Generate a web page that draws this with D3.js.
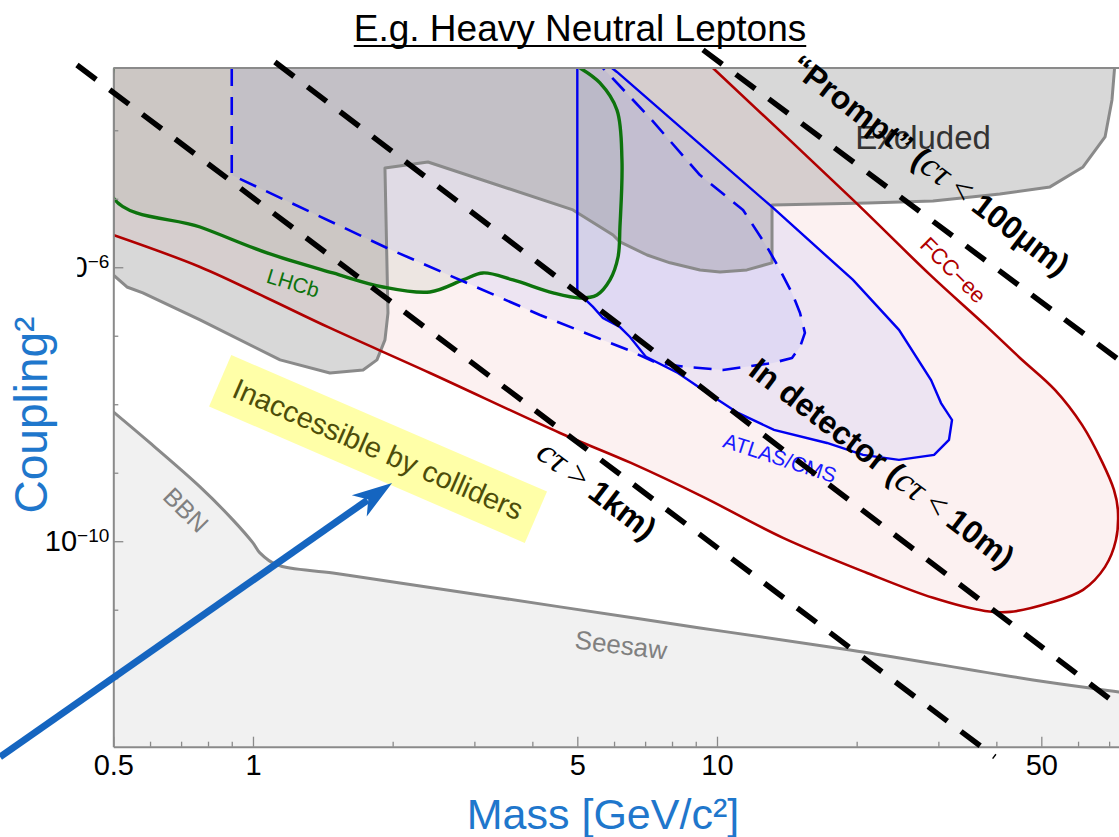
<!DOCTYPE html>
<html><head><meta charset="utf-8">
<script src="https://cdnjs.cloudflare.com/ajax/libs/d3/7.8.5/d3.min.js"></script>
<style>body{margin:0;background:#fff}svg{display:block}</style>
</head><body>
<svg id="c" width="1119" height="837"></svg>
<script>
// ---------------- data (mass in GeV/c^2, coupling^2) ----------------
const xTickMajor = [0.5, 1, 5, 10, 50];
const xTickMinor = [0.6, 0.7, 0.8, 0.9, 2, 3, 4, 6, 7, 8, 9, 20, 30, 40, 60, 70];
const yTickMajor = [1e-10, 1e-6];
const yTickMinor = [1e-12, 1e-11, 1e-9, 1e-8, 1e-7, 1e-5, 1e-4];

const excluded = [[0.5,1e-3],[72.1,1e-3],[71.0,2.77e-4],[68.6,7.98e-5],[61.5,2.91e-5],[52.2,1.49e-5],[40.7,1.17e-5],
  [29.2,9.29e-6],[21.1,8.69e-6],[13.14,8.13e-6],[13.14,1.16e-6],[11.6,9.14e-7],[10.15,8.55e-7],[9.19,9.14e-7],
  [7.92,1.16e-6],[7.07,1.51e-6],[6.18,2.34e-6],[5.97,2.96e-6],[4.894,6.87e-6],[2.383,3.44e-5],[1.925,2.82e-5],
  [1.954,2.15e-7],[1.925,8.69e-8],[1.85,4.44e-8],[1.727,3.17e-8],[1.465,2.86e-8],[1.144,4.44e-8],[0.769,1.70e-7],
  [0.579,4.22e-7],[0.535,5.15e-7],[0.5,7.73e-7]];

const fccee = [[0.5,2.96e-6],[0.769,1.01e-6],[1.072,3.56e-7],[1.465,1.30e-7],[2.407,2.86e-8],[4.588,3.81e-9],
  [6.526,1.39e-9],[9.33,4.44e-10],[13.88,1.12e-10],[21.06,3.44e-11],[29.22,1.49e-11],[37.8,9.59e-12],[42.8,9.29e-12],
  [52.2,1.26e-11],[61.5,1.95e-11],[68.6,4.22e-11],[72.4,1.04e-10],[73.1,2.86e-10],[71.7,5.61e-10],[67.6,1.44e-9],
  [61.2,4.99e-9],[53.5,1.62e-8],[44.98,4.74e-8],[37.8,1.44e-7],[28.8,7.73e-7],[19.64,9.62e-6],[9.8,8.11e-4]];

const atlasCms = [[5.0,8.11e-4],[5.0,4.36e-7],[5.405,2.64e-7],[5.678,1.82e-7],[6.178,1.34e-7],[6.494,9.59e-8],
  [7.03,4.91e-8],[8.24,2.86e-8],[9.33,1.62e-8],[11.1,7.46e-9],[13.27,4.22e-9],[17.26,2.72e-9],[20.64,1.82e-9],
  [24.67,1.54e-9],[29.37,1.82e-9],[31.62,3.01e-9],[32.1,5.90e-9],[30.4,1.04e-8],[28.93,2.26e-8],[24.67,1.22e-7],
  [19.64,6.53e-7],[13.14,7.59e-6],[6.087,7.10e-4],[5.937,8.11e-4]];

const atlasCmsDashed = [[0.9,8.11e-4],[0.9,2.22e-5],[1.945,1.91e-6],[4.155,2.01e-7],[6.43,6.21e-8],[7.42,4.01e-8],
  [8.53,3.51e-8],[10.3,3.17e-8],[13.2,4.01e-8],[14.51,4.74e-8],[15.1,6.87e-8],[15.47,1.10e-7],[15.1,2.15e-7],
  [14.51,4.22e-7],[13.67,9.14e-7],[12.82,1.98e-6],[11.38,6.87e-6],[9.19,2.22e-5],[7.17,1.51e-4],[5.678,8.11e-4]];

const lhcb = [[0.5,8.11e-4],[0.5,1.03e-5],[0.769,3.87e-6],[1.072,1.62e-6],[1.487,8.26e-7],[1.906,5.15e-7],
  [2.407,4.36e-7],[2.836,6.53e-7],[3.131,8.26e-7],[3.634,6.53e-7],[4.432,4.22e-7],[5.067,3.56e-7],[5.512,3.94e-7],
  [5.88,6.53e-7],[6.12,1.41e-6],[6.178,3.87e-6],[6.24,3.68e-5],[6.087,1.98e-4],[5.594,4.91e-4],[5.067,8.11e-4]];

const bbnSeesaw = [[0.5,7.73e-9],[0.6,2.72e-9],[0.769,6.21e-10],[0.905,2.05e-10],[1.0,9.44e-11],[1.035,6.75e-11],
  [1.126,4.51e-11],[1.487,3.44e-11],[2.074,2.46e-11],[4.588,1.10e-11],[9.19,5.42e-12],[19.35,2.59e-12],
  [47.97,9.44e-13],[73.5,6.31e-13],[100,4.7e-13]];

// lifetime contours (straight lines in log-log)
const ctau1km = [[0.4175,8.97e-4],[39.7,7.10e-14]];
const ctau10m = [[1.115,9.93e-4],[73.5,3.94e-13]];
const ctau100um = [[9.33,1.49e-3],[73.5,4.44e-8]];

// ---------------- setup ----------------
const W = 1119, H = 837;
const L = 113.3, R = 1181, T = 68, B = 746.7;
const x = d3.scaleLog().domain([0.5, 100]).range([L, R]);
const y = d3.scaleLog().domain([1e-13, 8.11e-4]).range([B, T]);
const yTop = y.domain()[1], yBot = y.domain()[0];
const SANS = 'Liberation Sans, Arial, sans-serif';

const svg = d3.select('#c');
svg.append('rect').attr('width', W).attr('height', H).attr('fill', '#fff');
const defs = svg.append('defs');
defs.append('clipPath').attr('id', 'plot').append('rect')
  .attr('x', L).attr('y', T).attr('width', R - L).attr('height', B - T);

const smooth = d3.line().x(d => x(d[0])).y(d => y(d[1])).curve(d3.curveCatmullRom.alpha(0.5));
const straight = d3.line().x(d => x(d[0])).y(d => y(d[1]));
const closeWith = (p, corners) => p + corners.map(c => `L${x(c[0])},${y(c[1])}`).join('') + 'Z';

const g = svg.append('g').attr('clip-path', 'url(#plot)');

// BBN / seesaw
g.append('path').attr('d', closeWith(smooth(bbnSeesaw), [[100, yBot], [0.5, yBot]])).attr('fill', '#f1f1f1');
// FCC-ee fill
g.append('path').attr('d', closeWith(smooth(fccee), [[0.5, yTop]])).attr('fill', '#e8a0a0').attr('fill-opacity', 0.15);
// LHCb fill
g.append('path').attr('d', closeWith(smooth(lhcb), [])).attr('fill', 'rgb(111,141,101)').attr('fill-opacity', 0.1);
// dashed ATLAS/CMS fill
g.append('path').attr('d', closeWith(straight(atlasCmsDashed), [])).attr('fill', 'rgb(128,136,255)').attr('fill-opacity', 0.12);
// ATLAS/CMS fill
g.append('path').attr('d', closeWith(straight(atlasCms), [])).attr('fill', 'rgb(128,136,255)').attr('fill-opacity', 0.12);
// Excluded
g.append('path').attr('d', straight(excluded) + 'Z').attr('fill', '#888').attr('fill-opacity', 0.33)
  .attr('stroke', '#8a8a8a').attr('stroke-width', 3).attr('stroke-linejoin', 'round');
g.append('path').attr('d', smooth(bbnSeesaw)).attr('fill', 'none').attr('stroke', '#8a8a8a').attr('stroke-width', 3);

// curves
g.append('path').attr('d', smooth(fccee)).attr('fill', 'none').attr('stroke', '#b00000').attr('stroke-width', 2.6);
g.append('path').attr('d', smooth(lhcb)).attr('fill', 'none').attr('stroke', '#0d730d').attr('stroke-width', 3.4);
g.append('path').attr('d', straight(atlasCms)).attr('fill', 'none').attr('stroke', '#0000f0').attr('stroke-width', 2.4);
g.append('path').attr('d', straight(atlasCmsDashed)).attr('fill', 'none').attr('stroke', '#0000f0').attr('stroke-width', 2.6)
  .attr('stroke-dasharray', '18,11').attr('stroke-linejoin', 'round');

// region labels
function lab(text, m, u, rot, size, color) {
  return svg.append('text')
    .attr('transform', `translate(${x(m)},${y(u)}) rotate(${rot})`)
    .attr('text-anchor', 'middle').attr('dy', '0.35em')
    .attr('font-family', SANS).attr('font-size', size).attr('fill', color).text(text);
}
lab('Excluded', 27.8, 7.98e-5, 0, 33, '#333');
lab('FCC\u2212ee', 32.3, 9.14e-7, 45, 22, '#b00000');
lab('LHCb', 1.22, 5.9e-7, 17, 21, '#0d730d');
lab('ATLAS/CMS', 13.67, 1.64e-9, 18, 21, '#1a1aff');
lab('BBN', 0.717, 2.86e-10, 45, 25, '#808080');
lab('Seesaw', 6.21, 3.06e-12, 7, 26, '#808080');

// ---------------- axes ----------------
const axisColor = '#8a8a8a';
const tickFont = "'Liberation Sans Narrow', 'Arial Narrow', 'Liberation Sans', sans-serif";
svg.append('line').attr('x1', L).attr('x2', W).attr('y1', T).attr('y2', T).attr('stroke', axisColor).attr('stroke-width', 2);

const xMin = svg.append('g').attr('transform', `translate(0,${B})`)
  .call(d3.axisBottom(x).tickValues(xTickMinor).tickSizeInner(-5).tickSizeOuter(0).tickFormat(''));
xMin.select('.domain').remove();
const xMaj = svg.append('g').attr('transform', `translate(0,${B})`)
  .call(d3.axisBottom(x).tickValues(xTickMajor).tickSizeInner(-10).tickSizeOuter(0).tickPadding(8).tickFormat(d => String(d)));
const yMin = svg.append('g').attr('transform', `translate(${L},0)`)
  .call(d3.axisLeft(y).tickValues(yTickMinor).tickSizeInner(-5).tickSizeOuter(0).tickFormat(''));
yMin.select('.domain').remove();
const yMaj = svg.append('g').attr('transform', `translate(${L},0)`)
  .call(d3.axisLeft(y).tickValues(yTickMajor).tickSizeInner(-10).tickSizeOuter(0).tickPadding(4).tickFormat(d => String(d)));
[xMin, xMaj, yMin, yMaj].forEach(a => {
  a.selectAll('line').attr('stroke', axisColor).attr('stroke-width', 1.3);
  a.selectAll('.domain').attr('stroke', axisColor).attr('stroke-width', 2);
  a.selectAll('text').attr('font-family', tickFont).attr('font-size', 29).attr('fill', '#000');
});
defs.append('clipPath').attr('id', 'lblclip').append('rect').attr('x', -36).attr('y', -40).attr('width', 60).attr('height', 80);
yMaj.selectAll('.tick').each(function (d) {
  const t = d3.select(this).select('text');
  const e = Math.round(Math.log10(d));
  t.text(null);
  t.append('tspan').text('10');
  t.append('tspan').attr('dy', '-0.5em').attr('font-size', 19).text('\u2212' + Math.abs(e));
  if (e === -6) t.attr('clip-path', 'url(#lblclip)');
});

// ---------------- lifetime contour lines ----------------
[ctau1km, ctau10m, ctau100um].forEach(l => {
  svg.append('path').attr('d', straight(l)).attr('fill', 'none').attr('stroke', '#000')
    .attr('stroke-width', 5.5).attr('stroke-dasharray', '24,17');
});
const ang = Math.atan2(y(ctau10m[1][1]) - y(ctau10m[0][1]), x(ctau10m[1][0]) - x(ctau10m[0][0])) * 180 / Math.PI;

function ctLabel(m, u, pre, rel, post) {
  const t = svg.append('text')
    .attr('transform', `translate(${x(m)},${y(u)}) rotate(${ang})`)
    .attr('text-anchor', 'middle').attr('dy', '0.35em').attr('font-size', 32).attr('fill', '#000');
  t.append('tspan').attr('font-family', SANS).attr('font-weight', 'bold').text(pre);
  t.append('tspan').attr('font-family', 'Liberation Serif, serif').attr('font-style', 'italic').attr('font-size', 36).text('c\u03c4');
  t.append('tspan').attr('font-family', 'Liberation Serif, serif').attr('font-size', 34).text(rel);
  t.append('tspan').attr('font-family', SANS).attr('font-weight', 'bold').text(post);
}
ctLabel(28.8, 3.11e-5, '\u201cPrompt\u201d (', ' < ', '100\u03bcm)');
ctLabel(22.7, 1.39e-9, 'In detector (', ' < ', '10m)');
ctLabel(5.51, 5.61e-10, '', ' > ', '1km)');

// ---------------- annotation: inaccessible ----------------
const inacc = svg.append('g').attr('transform', `translate(${x(1.86)},${y(2.22e-9)}) rotate(23.4)`);
inacc.append('rect').attr('x', -172).attr('y', -28).attr('width', 344).attr('height', 56).attr('fill', '#ffffa8');
inacc.append('text').attr('text-anchor', 'middle').attr('dy', '0.35em').attr('font-family', SANS)
  .attr('font-size', 29).attr('fill', '#4d4d0a').text('Inaccessible by colliders');

// arrow
const aStart = [x(0.285), y(7.1e-14)], aTip = [x(1.994), y(7.1e-10)];
const dx = aTip[0] - aStart[0], dy = aTip[1] - aStart[1], len = Math.hypot(dx, dy);
const ux = dx / len, uy = dy / len, nx = -uy, ny = ux;
svg.append('line').attr('x1', aStart[0]).attr('y1', aStart[1])
  .attr('x2', aTip[0] - 30 * ux).attr('y2', aTip[1] - 30 * uy).attr('stroke', '#1565c0').attr('stroke-width', 7);
svg.append('path').attr('d', `M${aTip[0]},${aTip[1]}L${aTip[0] - 40 * ux + 13 * nx},${aTip[1] - 40 * uy + 13 * ny}` +
  `L${aTip[0] - 29 * ux},${aTip[1] - 29 * uy}L${aTip[0] - 40 * ux - 13 * nx},${aTip[1] - 40 * uy - 13 * ny}Z`).attr('fill', '#1565c0');

// ---------------- titles ----------------
const title = svg.append('text').attr('x', 580).attr('y', 41).attr('text-anchor', 'middle')
  .attr('font-family', SANS).attr('font-size', 37).attr('fill', '#000')
  .text('E.g. Heavy Neutral Leptons');
const tb = title.node().getBBox();
svg.append('line').attr('x1', tb.x).attr('x2', tb.x + tb.width).attr('y1', 46).attr('y2', 46).attr('stroke', '#000').attr('stroke-width', 2);

svg.append('text').attr('x', 603).attr('y', 829).attr('text-anchor', 'middle')
  .attr('font-family', SANS).attr('font-size', 43).attr('fill', '#1f77cc')
  .text('Mass [GeV/c\u00b2]');
svg.append('text').attr('transform', 'translate(47,415) rotate(-90)').attr('text-anchor', 'middle')
  .attr('font-family', SANS).attr('font-size', 46).attr('fill', '#1f77cc')
  .text('Coupling\u00b2');
</script>
</body></html>
